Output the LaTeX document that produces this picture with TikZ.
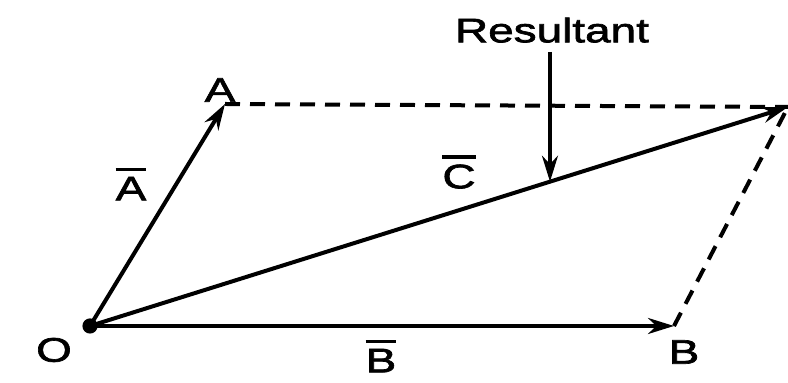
\documentclass[tikz,border=0pt]{standalone}
\usepackage{fontspec}
\usepackage{tikz}
\usetikzlibrary{arrows.meta,calc}

\newfontfamily\vecfont[FakeStretch=1.35,FakeBold=2]{Liberation Sans}
\newcommand{\barlbl}[1]{\vbox{\hrule height 1.6pt\kern 3pt\hbox{\vecfont #1}}}

\begin{document}
\begin{tikzpicture}[
    x=0.5pt, y=-0.5pt,
    lbl/.style={inner sep=0pt, font=\vecfont\fontsize{17}{20}\selectfont},
    vec/.style={-{Stealth[length=13pt, width=8pt]}, line width=2pt},
    side/.style={dashed, dash pattern=on 7.5pt off 5pt, line width=2pt}
]
    \useasboundingbox (0,0) rectangle (788,383);

    % corners of the parallelogram
    \coordinate (O) at (90,326);
    \coordinate (A) at (225,104);
    \coordinate (B) at (674,326);
    \coordinate (C) at (788,107);
    \coordinate (Cp) at ($(O)!0.659!(C)$);

    % sides
    \draw [side] (A) -- (C);
    \draw [side] (B) -- (C);

    % vectors
    \draw [vec] (O) -- (A);
    \draw [vec] (O) -- (B);
    \draw [vec] (O) -- (C);
    \fill (O) circle (3.8pt);

    % labels
    \node [lbl] (lO) at (54,350) {O};
    \node [lbl] (lA) at (220,90) {A};
    \node [lbl] (lB) at (684,352) {B};
    \node [lbl] (vA) at (131,184) {\barlbl{A}};
    \node [lbl] (vC) at (459,172) {\barlbl{C}};
    \node [lbl] (vB) at (381,356) {\barlbl{B}};

    \node [lbl, anchor=south] (res) at (552,43) {Resultant};
    \draw [vec, line width=1.8pt] (res.south -| Cp) ++(0,9) -- (Cp);
\end{tikzpicture}
\end{document}
